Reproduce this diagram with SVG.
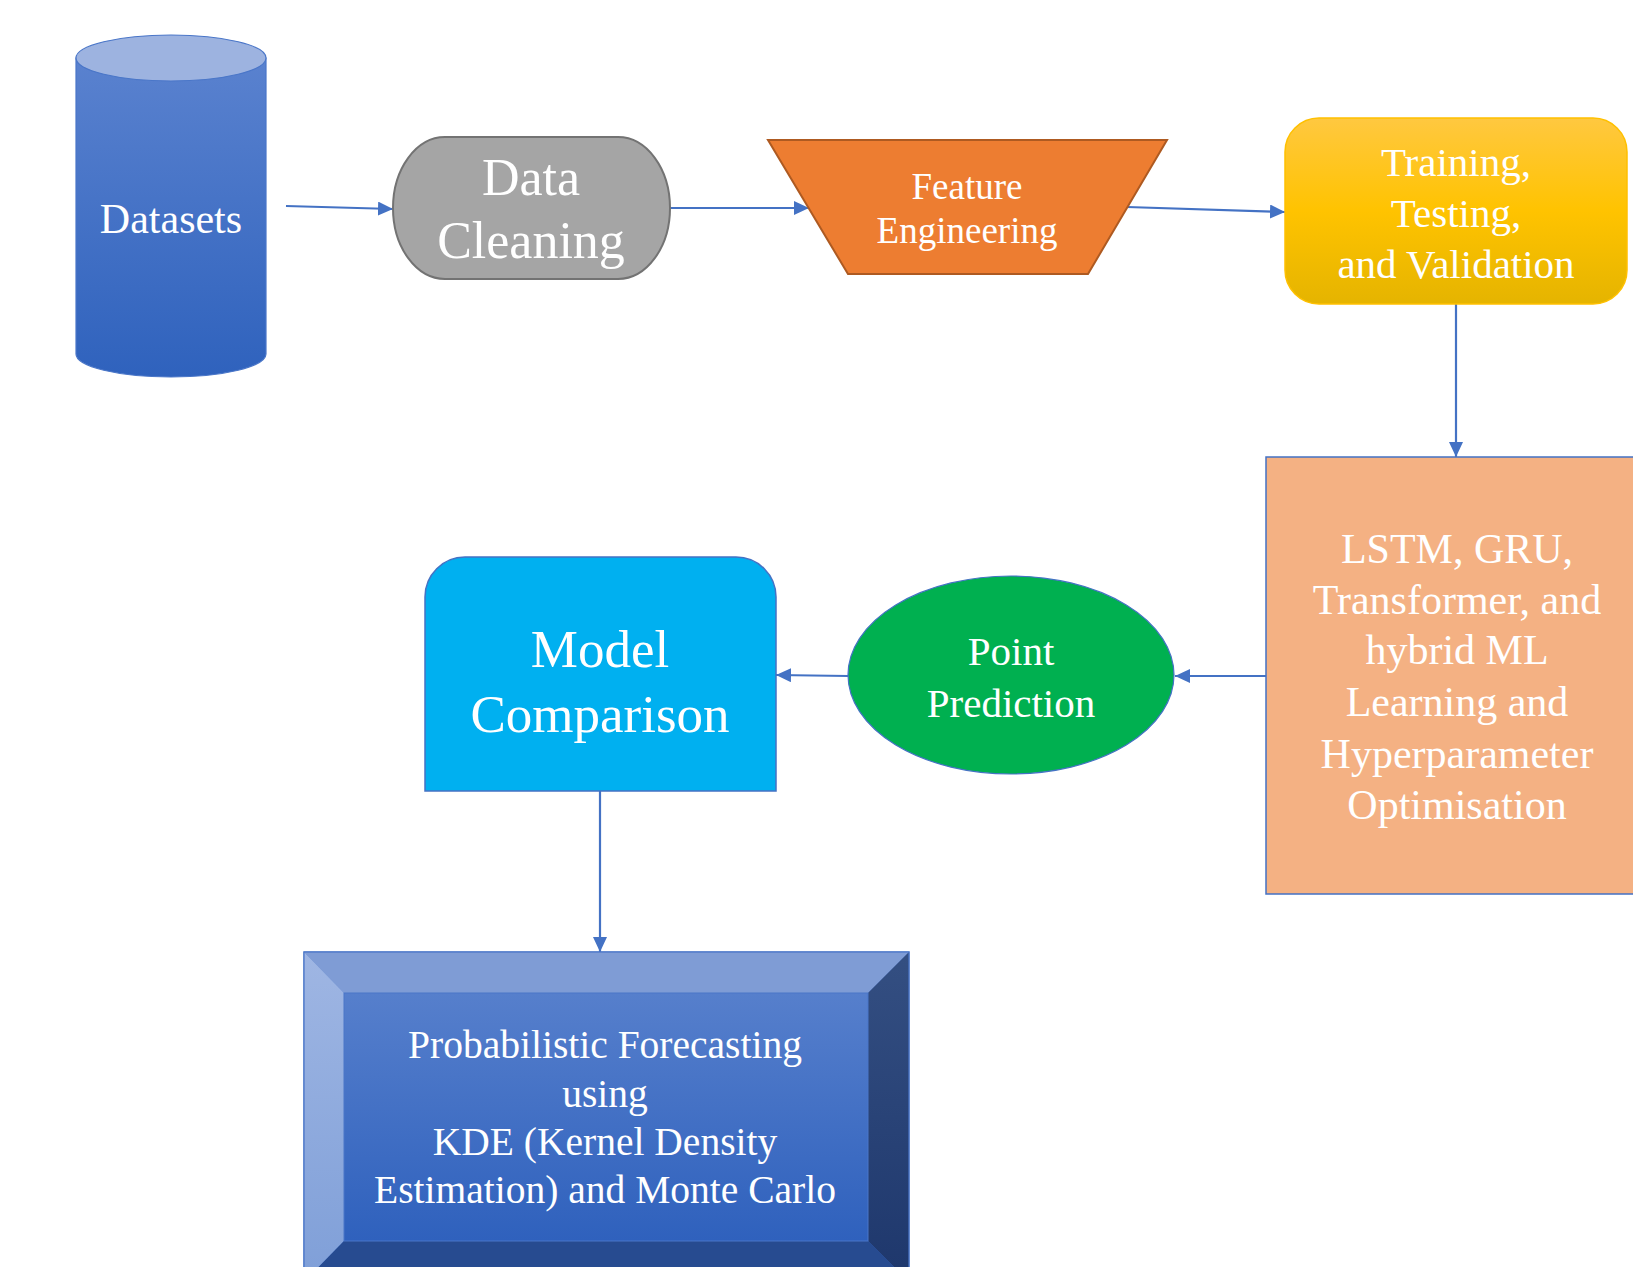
<svg xmlns="http://www.w3.org/2000/svg" width="1633" height="1267" viewBox="0 0 1633 1267">
<style>
.t{font-family:"Liberation Serif","Times New Roman",serif;fill:#ffffff;text-anchor:middle}
.c{stroke:#4472c4;stroke-width:2.2;fill:none;marker-end:url(#ah)}
</style>
<defs>
<marker id="ah" markerUnits="userSpaceOnUse" markerWidth="16" markerHeight="14" refX="15" refY="7" orient="auto">
<path d="M0,0 L15,7 L0,14 Z" fill="#4472c4"/>
</marker>
<linearGradient id="gCyl" x1="0" y1="0" x2="0" y2="1">
<stop offset="0" stop-color="#5a82cf"/>
<stop offset="1" stop-color="#2f62bd"/>
</linearGradient>
<linearGradient id="gTrain" x1="0" y1="0" x2="0" y2="1">
<stop offset="0" stop-color="#ffc840"/>
<stop offset="0.5" stop-color="#ffc300"/>
<stop offset="1" stop-color="#e5b400"/>
</linearGradient>
<linearGradient id="gFace" x1="0" y1="0" x2="0" y2="1">
<stop offset="0" stop-color="#567fcc"/>
<stop offset="1" stop-color="#2f61bd"/>
</linearGradient>
<linearGradient id="gLeft" x1="0" y1="0" x2="0" y2="1">
<stop offset="0" stop-color="#9fb6e3"/>
<stop offset="1" stop-color="#7f9fd8"/>
</linearGradient>
<linearGradient id="gRight" x1="0" y1="0" x2="0" y2="1">
<stop offset="0" stop-color="#344f82"/>
<stop offset="1" stop-color="#1e376c"/>
</linearGradient>
</defs>

<g id="connectors">
<line class="c" x1="286" y1="206" x2="393" y2="209"/>
<line class="c" x1="670" y1="208" x2="809" y2="208"/>
<line class="c" x1="1127" y1="207" x2="1285" y2="212"/>
<line class="c" x1="1456" y1="304" x2="1456" y2="457"/>
<line class="c" x1="1266" y1="676" x2="1175" y2="676"/>
<line class="c" x1="848" y1="676" x2="776" y2="675"/>
<line class="c" x1="600" y1="791" x2="600" y2="952"/>
</g>

<g id="datasets">
<path d="M76,58 L76,354 A95,23 0 0 0 266,354 L266,58 Z" fill="url(#gCyl)" stroke="#4a76c8" stroke-width="1.2"/>
<ellipse cx="171" cy="58" rx="95" ry="23" fill="#9db3e0" stroke="#4a76c8" stroke-width="1.2"/>
<text class="t" x="171" y="233" font-size="42">Datasets</text>
</g>

<g id="data-cleaning">
<rect x="393" y="137" width="277" height="142" rx="52" ry="71" fill="#a5a5a5" stroke="#737373" stroke-width="2"/>
<text class="t" x="531" y="195" font-size="52">Data</text>
<text class="t" x="531" y="258" font-size="52">Cleaning</text>
</g>

<g id="feature-engineering">
<polygon points="768,140 1167,140 1088,274 848,274" fill="#ed7d31" stroke="#ae5a21" stroke-width="2"/>
<text class="t" x="967" y="199" font-size="37">Feature</text>
<text class="t" x="967" y="243" font-size="37">Engineering</text>
</g>

<g id="training">
<rect x="1285" y="118" width="342" height="186" rx="34" fill="url(#gTrain)" stroke="#ffc000" stroke-width="1.5"/>
<text class="t" x="1456" y="176" font-size="41">Training,</text>
<text class="t" x="1456" y="227" font-size="41">Testing,</text>
<text class="t" x="1456" y="278" font-size="41">and Validation</text>
</g>

<g id="models">
<rect x="1266" y="457" width="380" height="437" fill="#f4b183" stroke="#4472c4" stroke-width="1.5"/>
<text class="t" x="1457" y="563" font-size="42">LSTM, GRU,</text>
<text class="t" x="1457" y="614" font-size="42">Transformer, and</text>
<text class="t" x="1457" y="664" font-size="42">hybrid ML</text>
<text class="t" x="1457" y="716" font-size="42">Learning and</text>
<text class="t" x="1457" y="768" font-size="42">Hyperparameter</text>
<text class="t" x="1457" y="819" font-size="42">Optimisation</text>
</g>

<g id="point-prediction">
<ellipse cx="1011" cy="675" rx="163" ry="99" fill="#00b050" stroke="#4472c4" stroke-width="1.2"/>
<text class="t" x="1011" y="665" font-size="41">Point</text>
<text class="t" x="1011" y="717" font-size="41">Prediction</text>
</g>

<g id="model-comparison">
<path d="M425,791 L425,597 A40,40 0 0 1 465,557 L736,557 A40,40 0 0 1 776,597 L776,791 Z" fill="#00b0f0" stroke="#4472c4" stroke-width="1.5"/>
<text class="t" x="600" y="667" font-size="53">Model</text>
<text class="t" x="600" y="732" font-size="53">Comparison</text>
</g>

<g id="probabilistic">
<rect x="304" y="952" width="605" height="330" fill="url(#gFace)" stroke="#4472c4" stroke-width="1.2"/>
<polygon points="304,952 909,952 868,993 344,993" fill="#7f9cd5"/>
<polygon points="304,952 344,993 344,1241 304,1282" fill="url(#gLeft)"/>
<polygon points="909,952 909,1282 868,1241 868,993" fill="url(#gRight)"/>
<polygon points="344,1241 868,1241 909,1282 304,1282" fill="#274b90"/>
<rect x="344" y="993" width="524" height="248" fill="url(#gFace)" stroke="#4a76c8" stroke-width="1"/>
<rect x="304" y="952" width="605" height="330" fill="none" stroke="#4a76c8" stroke-width="1.2"/>
<text class="t" x="605" y="1058" font-size="39.5">Probabilistic Forecasting</text>
<text class="t" x="605" y="1107" font-size="39.5">using</text>
<text class="t" x="605" y="1155" font-size="39.5">KDE (Kernel Density</text>
<text class="t" x="605" y="1203" font-size="39.5">Estimation) and Monte Carlo</text>
</g>
</svg>
